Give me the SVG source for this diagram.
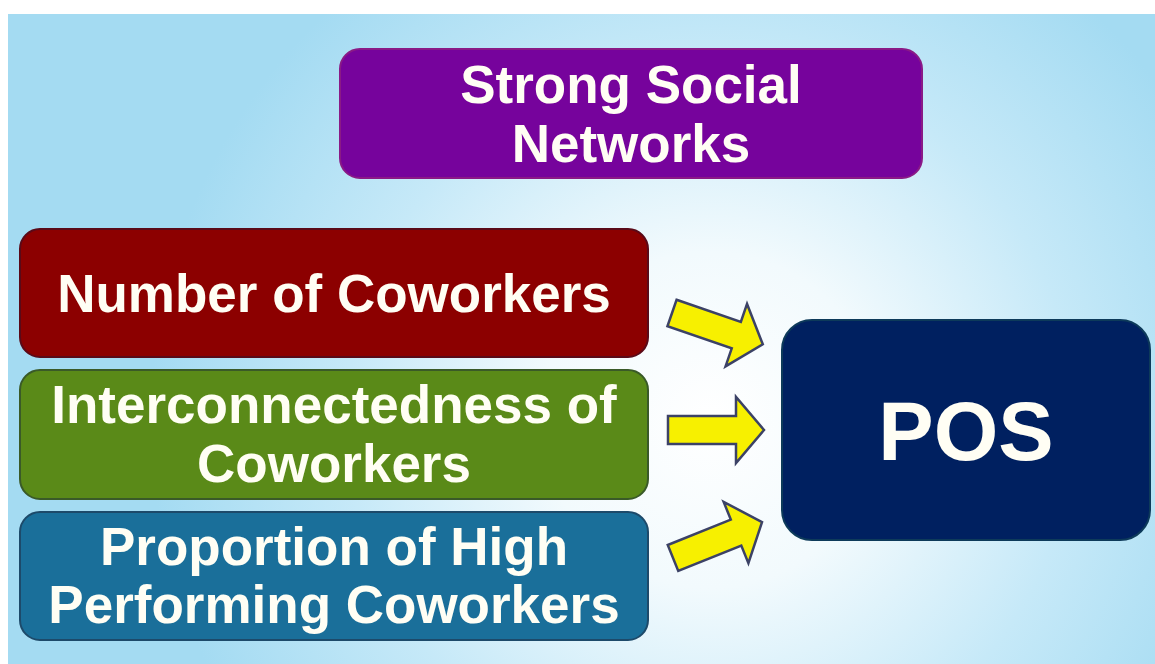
<svg xmlns="http://www.w3.org/2000/svg" width="1155" height="664" viewBox="0 0 1155 664">
  <defs>
    <radialGradient id="bg" cx="710" cy="420" r="560" gradientUnits="userSpaceOnUse">
      <stop offset="0" stop-color="#ffffff"/>
      <stop offset="0.3" stop-color="#f2fafd"/>
      <stop offset="0.65" stop-color="#c6e9f8"/>
      <stop offset="1" stop-color="#a4dbf2"/>
    </radialGradient>
    <path id="arrow" d="M0,-14 L68,-14 L68,-33 L96,0 L68,33 L68,14 L0,14 Z"/>
  </defs>
  <style>
    .box { stroke-width: 2; }
    .lbl { font-family: "Liberation Sans", Arial, sans-serif; font-weight: bold; font-size: 53px; fill: #fffef4; text-anchor: middle; }
    .pos { font-size: 83px; }
    .arr { fill: #f7f000; stroke: #3c4266; stroke-width: 2.5; stroke-linejoin: miter; }
  </style>
  <rect x="0" y="0" width="1155" height="664" fill="#ffffff"/>
  <rect x="8" y="14" width="1147" height="650" fill="url(#bg)"/>

  <g id="node-strong-social-networks">
    <rect class="box" x="340" y="49" width="582" height="129" rx="20" fill="#76039c" stroke="#8a1a86"/>
    <text class="lbl" x="631" y="103">Strong Social</text>
    <text class="lbl" x="631" y="162">Networks</text>
  </g>

  <g id="node-number-of-coworkers">
    <rect class="box" x="20" y="229" width="628" height="128" rx="20" fill="#8c0000" stroke="#5a0a18"/>
    <text class="lbl" x="334" y="312">Number of Coworkers</text>
  </g>

  <g id="node-interconnectedness">
    <rect class="box" x="20" y="370" width="628" height="129" rx="20" fill="#5a8a18" stroke="#3a5a28"/>
    <text class="lbl" x="334" y="423">Interconnectedness of</text>
    <text class="lbl" x="334" y="482">Coworkers</text>
  </g>

  <g id="node-proportion-high-performing">
    <rect class="box" x="20" y="512" width="628" height="128" rx="20" fill="#1a6f9a" stroke="#1d4a6a"/>
    <text class="lbl" x="334" y="565">Proportion of High</text>
    <text class="lbl" x="334" y="623">Performing Coworkers</text>
  </g>

  <g id="node-pos">
    <rect class="box" x="782" y="320" width="368" height="220" rx="30" fill="#002060" stroke="#0d3a5a"/>
    <text class="lbl pos" x="966" y="460">POS</text>
  </g>

  <g id="connectors">
    <use href="#arrow" class="arr" transform="translate(672,313) rotate(19)"/>
    <use href="#arrow" class="arr" transform="translate(668,430)"/>
    <use href="#arrow" class="arr" transform="translate(673,558) rotate(-22)"/>
  </g>
</svg>
